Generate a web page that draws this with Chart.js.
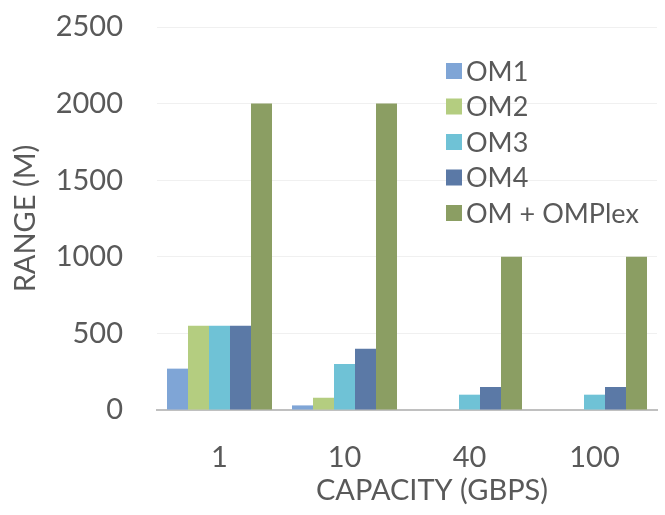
<!DOCTYPE html>
<html>
<head>
<meta charset="utf-8">
<script src="https://cdn.jsdelivr.net/npm/chart.js@4/dist/chart.umd.min.js"></script>
<style>
  html, body { margin: 0; padding: 0; background: #fff; }
  #wrap { width: 665px; height: 515px; }
</style>
</head>
<body>
<div id="wrap"><canvas id="chart" width="665" height="515"></canvas></div>
<script>
const categories = ["1", "10", "40", "100"];
const seriesNames = ["OM1", "OM2", "OM3", "OM4", "OM + OMPlex"];
const om1 = [270, 30, 0, 0];
const om2 = [550, 80, 0, 0];
const om3 = [550, 300, 100, 100];
const om4 = [550, 400, 150, 150];
const omplex = [2000, 2000, 1000, 1000];
const yTicks = [0, 500, 1000, 1500, 2000, 2500];
const xTitle = "CAPACITY (GBPS)";

const colors = ["#7fa5d6", "#b4cd80", "#6fc2d6", "#5b79a6", "#8b9e63"];
const FONT = "Lato, 'Open Sans', sans-serif";
const GRAY = "#595959";

// legend drawn inside the plot, top right, plus the x title (sits right of centre)
const extras = {
    id: "extras",
    afterDraw(chart) {
        const ctx = chart.ctx;
        ctx.save();
        ctx.font = "27px " + FONT;
        ctx.textBaseline = "middle";
        chart.data.datasets.forEach((ds, i) => {
            const y = 71 + i * 35.5;
            ctx.fillStyle = ds.backgroundColor;
            ctx.fillRect(446, y - 8, 16, 16);
            ctx.fillStyle = GRAY;
            ctx.fillText(ds.label, 466, y + 1);
        });
        ctx.font = "29px " + FONT;
        ctx.textAlign = "center";
        ctx.fillText(xTitle, 432, 491);
        ctx.restore();
    }
};

const series = [om1, om2, om3, om4, omplex];

new Chart(document.getElementById("chart"), {
    type: "bar",
    data: {
        labels: categories,
        datasets: series.map((d, i) => ({
            label: seriesNames[i],
            data: d,
            backgroundColor: colors[i],
            categoryPercentage: 0.84,
            barPercentage: 1.0
        }))
    },
    options: {
        responsive: false,
        animation: false,
        layout: { padding: { top: 27, right: 8, left: 0, bottom: 0 } },
        plugins: {
            legend: { display: false },
            tooltip: { enabled: false }
        },
        scales: {
            x: {
                grid: { display: false, drawTicks: false },
                border: { color: "#c0c0c0", width: 2 },
                ticks: { color: GRAY, font: { family: FONT, size: 29 }, padding: 30 },
                afterFit(s) { s.height = 105; }
            },
            y: {
                min: 0,
                max: 2500,
                afterBuildTicks(s) { s.ticks = yTicks.map(v => ({ value: v })); },
                grid: { color: "#f0f0f0", drawTicks: false },
                border: { display: false },
                ticks: { color: GRAY, font: { family: FONT, size: 29 }, padding: 34, callback: v => String(v) },
                title: { display: true, text: "RANGE (M)", color: GRAY, font: { family: FONT, size: 29 }, padding: { top: 8, bottom: 0 } },
                afterFit(s) { s.width = 157; s.paddingTop = 10; s.paddingBottom = 10; }
            }
        }
    },
    plugins: [extras]
});
</script>
</body>
</html>
